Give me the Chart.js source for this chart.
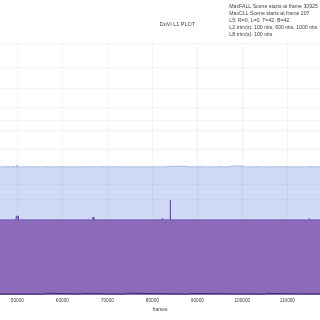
<!DOCTYPE html>
<html>
<head>
<meta charset="utf-8">
<script src="https://cdn.jsdelivr.net/npm/chart.js@4.4.1/dist/chart.umd.min.js"></script>
<style>
  html, body { margin: 0; padding: 0; background: #fff; }
  #wrap { width: 320px; height: 320px; }
</style>
</head>
<body>
<div id="wrap"><canvas id="chart"></canvas></div>
<script>
// visible frame window and axis ticks
const frameMin = 46148;
const frameMax = 117259;
const xTicks = [50000, 60000, 70000, 80000, 90000, 100000, 110000];
// PQ positions of the horizontal gridlines (10000 nits at the top)
const yGrid = [0.032, 0.067, 0.115, 0.171, 0.234, 0.377, 0.437, 0.508, 0.579, 0.651, 0.694, 0.746, 0.821, 0.901, 1.0];

// MaxCLL (max PQ) per frame, sampled
const maxFrames = [46148, 47450, 47480, 47520, 48120, 48150, 48190, 49000, 49040, 49080, 49880, 49930, 49980,
  52120, 52150, 52190, 54340, 54370, 54410, 56560, 56590, 56630, 59450, 59480, 59520,
  64560, 64590, 64630, 66780, 66810, 66850, 69000, 69040, 69080, 72110, 72150, 72190,
  83220, 83260, 83600, 83900, 84300, 84700, 85200, 85600, 86000, 86500, 87000, 87400, 87700, 87740,
  90560, 90590, 90630, 95000, 95040, 95080, 97230, 97260, 97700, 98200, 98700, 99200, 99700, 100150, 100190,
  103220, 103260, 103300, 108340, 108370, 108410, 115000, 115040, 115080, 116560, 116590, 116630, 117259];
const maxValues = [0.508, 0.508, 0.513, 0.508, 0.508, 0.512, 0.508, 0.508, 0.512, 0.508, 0.508, 0.516, 0.508,
  0.508, 0.511, 0.508, 0.508, 0.511, 0.508, 0.508, 0.512, 0.508, 0.508, 0.511, 0.508,
  0.508, 0.511, 0.508, 0.508, 0.512, 0.508, 0.508, 0.511, 0.508, 0.508, 0.512, 0.508,
  0.508, 0.512, 0.509, 0.513, 0.510, 0.512, 0.509, 0.513, 0.510, 0.512, 0.509, 0.511, 0.512, 0.508,
  0.508, 0.513, 0.508, 0.508, 0.512, 0.508, 0.508, 0.512, 0.510, 0.514, 0.510, 0.513, 0.511, 0.512, 0.508,
  0.508, 0.511, 0.508, 0.508, 0.512, 0.508, 0.508, 0.512, 0.508, 0.508, 0.511, 0.508, 0.508];

// average PQ per frame, sampled
const avgFrames = [46148, 49700, 49760, 50200, 50260, 66700, 66760, 66950, 67000, 82100, 82150, 82300, 82350,
  83960, 83980, 84020, 84040, 114800, 114850, 115000, 115050, 117259];
const avgValues = [0.298, 0.298, 0.312, 0.313, 0.298, 0.298, 0.308, 0.308, 0.298, 0.298, 0.303, 0.303, 0.298,
  0.298, 0.377, 0.377, 0.298, 0.298, 0.303, 0.303, 0.298, 0.298];

// min PQ per frame, sampled
const minFrames = [46148, 56000, 56200, 64000, 64300, 74000, 74200, 88000, 88300, 105000, 105200, 117259];
const minValues = [0.004, 0.004, 0.007, 0.004, 0.006, 0.004, 0.007, 0.004, 0.006, 0.004, 0.006, 0.004];

const titleText = 'DoVi L1 PLOT';
const infoLines = [
  'MaxFALL Scene starts at frame 30925',
  'MaxCLL Scene starts at frame 207',
  'L5: R=0, L=0, T=42, B=42',
  'L2 trim(s): 100 nits, 600 nits, 1000 nits',
  'L8 trim(s): 100 nits'
];

function toPoints(xs, ys) {
  return xs.map((x, i) => ({ x: x, y: ys[i] }));
}

// title and info text drawn on top of the canvas
const textPlugin = {
  id: 'texts',
  afterDraw(chart) {
    const ctx = chart.ctx;
    ctx.save();
    ctx.fillStyle = '#444';
    ctx.textBaseline = 'middle';
    ctx.font = '5.5px "Liberation Sans", Arial, sans-serif';
    ctx.textAlign = 'center';
    ctx.fillText(titleText, 177.5, 24.3);
    ctx.font = '5.2px "Liberation Sans", Arial, sans-serif';
    ctx.textAlign = 'left';
    infoLines.forEach((line, i) => {
      ctx.fillText(line, 229.3, 6.5 + i * 6.9);
    });
    ctx.restore();
  }
};

new Chart(document.getElementById('chart'), {
  type: 'line',
  data: {
    datasets: [
      {
        label: 'min',
        data: toPoints(minFrames, minValues),
        borderColor: '#3d2d63',
        borderWidth: 1,
        pointRadius: 0,
        fill: false
      },
      {
        label: 'average',
        data: toPoints(avgFrames, avgValues),
        borderColor: '#6f4fae',
        backgroundColor: 'rgb(140, 108, 186)',
        borderWidth: 1,
        pointRadius: 0,
        fill: 'origin'
      },
      {
        label: 'max',
        data: toPoints(maxFrames, maxValues),
        borderColor: '#aebdee',
        backgroundColor: 'rgb(208, 217, 246)',
        borderWidth: 1,
        pointRadius: 0,
        fill: 'origin'
      }
    ]
  },
  options: {
    responsive: true,
    maintainAspectRatio: false,
    animation: false,
    layout: { padding: { top: 43, left: 0, right: 0, bottom: 0 } },
    plugins: {
      legend: { display: false },
      tooltip: { enabled: false },
      title: { display: false }
    },
    elements: { line: { tension: 0 } },
    scales: {
      x: {
        type: 'linear',
        min: frameMin,
        max: frameMax,
        afterBuildTicks: (s) => { s.ticks = xTicks.map(v => ({ value: v })); },
        afterFit: (s) => { s.height = 25; },
        border: { display: false },
        grid: { color: 'rgba(110, 110, 140, 0.08)', drawTicks: false, z: 1 },
        ticks: {
          color: '#444',
          padding: 3,
          maxRotation: 0,
          autoSkip: false,
          font: { family: '"Liberation Sans", Arial, sans-serif', size: 4.7 },
          callback: (v) => String(v)
        },
        title: {
          display: true,
          text: 'frames',
          color: '#444',
          padding: { top: 0, bottom: 7.5 },
          font: { family: '"Liberation Sans", Arial, sans-serif', size: 4.9 }
        }
      },
      y: {
        min: 0,
        max: 1,
        afterBuildTicks: (s) => { s.ticks = yGrid.map(v => ({ value: v })); },
        afterFit: (s) => { s.width = 0; },
        border: { display: false },
        grid: { color: 'rgba(110, 110, 140, 0.08)', drawTicks: false, z: 1 },
        ticks: { display: false }
      }
    }
  },
  plugins: [textPlugin]
});
</script>
</body>
</html>
